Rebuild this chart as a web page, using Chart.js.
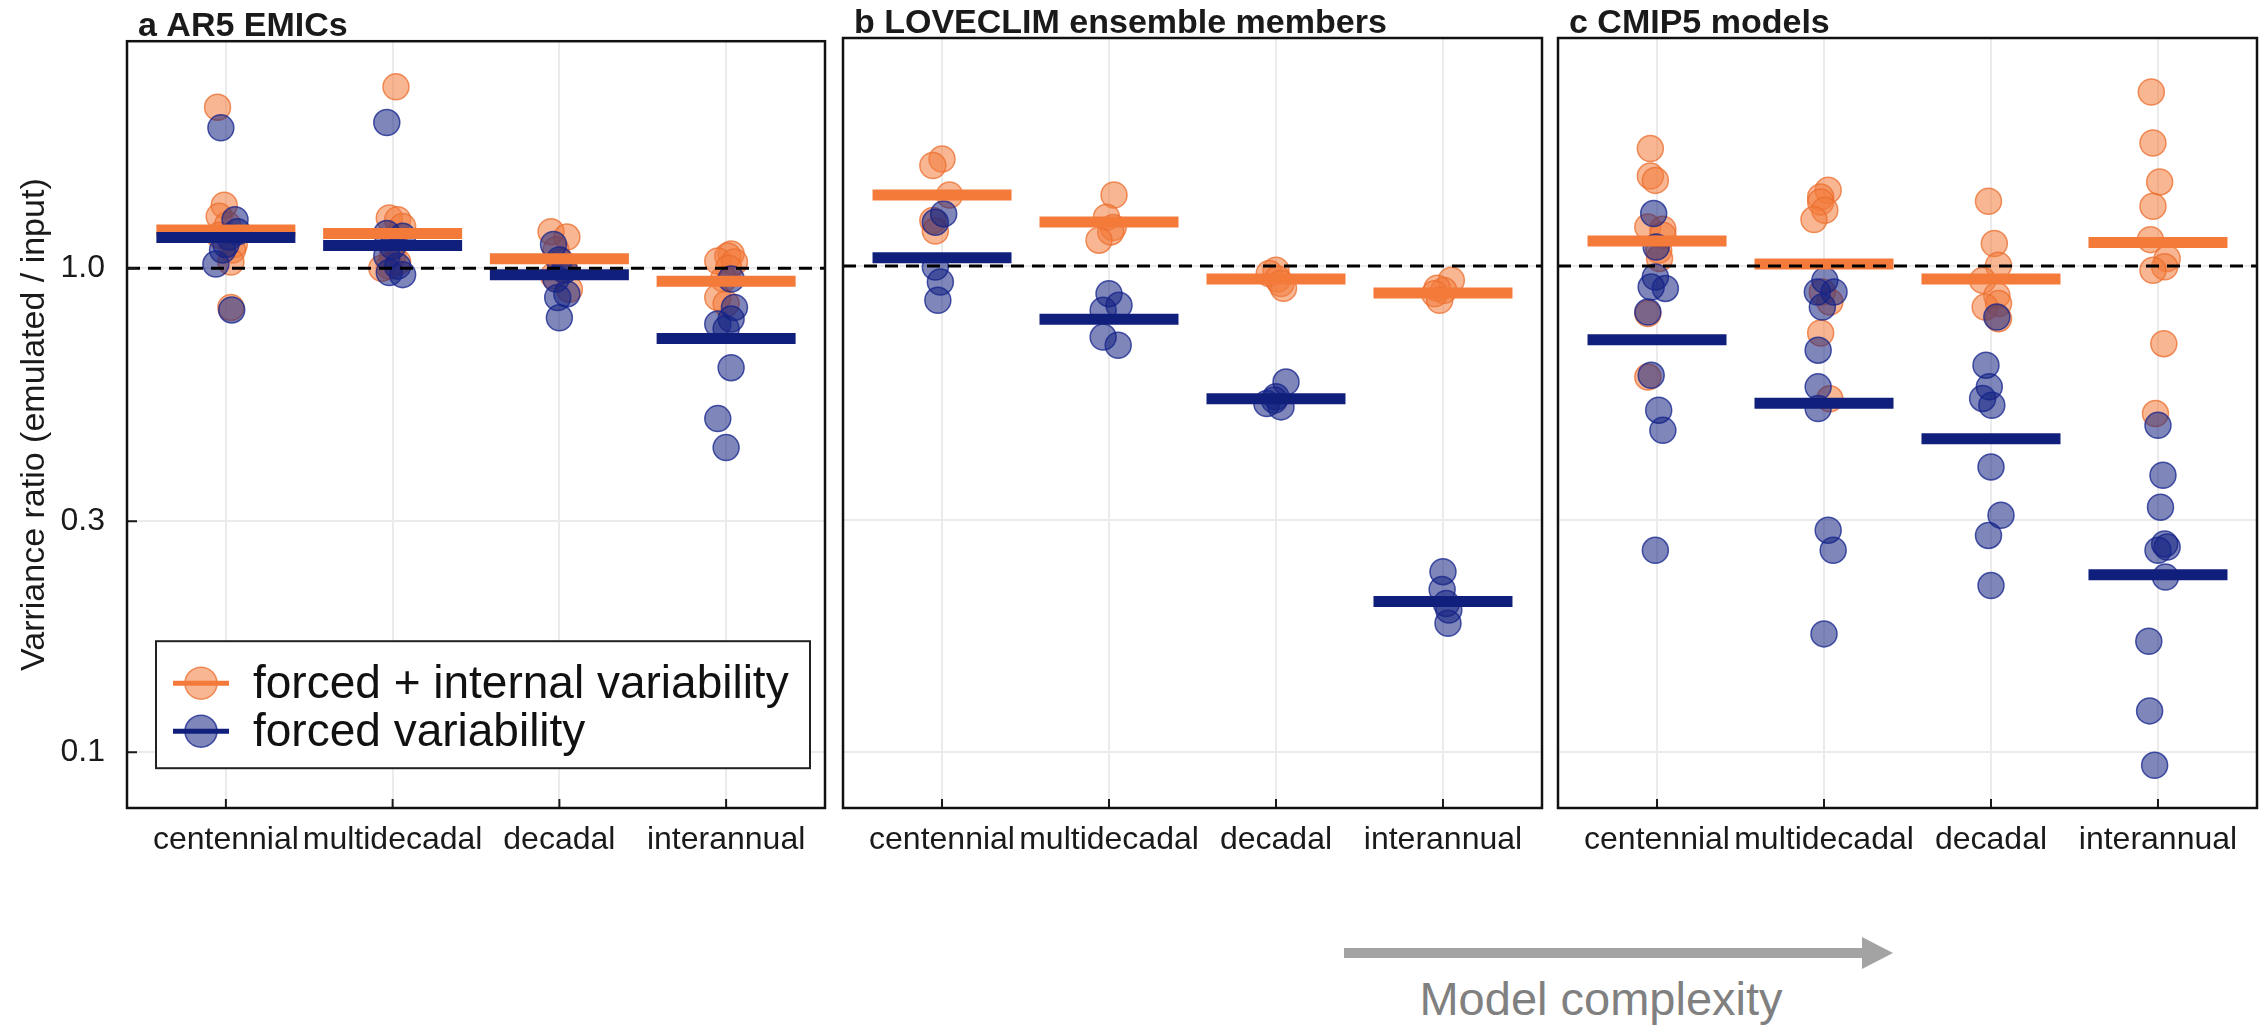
<!DOCTYPE html>
<html>
<head>
<meta charset="utf-8">
<title>Variance ratio of emulated vs input</title>
<script src="https://cdn.jsdelivr.net/npm/chart.js@4.4.1/dist/chart.umd.min.js"></script>
<style>
    html, body { margin: 0; padding: 0; background: #fff; }
    #fig { position: relative; width: 2265px; height: 1027px; overflow: hidden; }
    #fig canvas { position: absolute; top: 0; }
    #arrow { position: absolute; left: 1340px; top: 933px; }
    #complexity {
        position: absolute; left: 1401px; top: 975px; width: 400px;
        text-align: center; font: 47px/1 'Liberation Sans', Arial, sans-serif; color: #808080;
    }
</style>
</head>
<body>
<div id="fig">
    <canvas id="panelA" width="833" height="900" style="left:0px"></canvas>
    <canvas id="panelB" width="717" height="900" style="left:833px"></canvas>
    <canvas id="panelC" width="717" height="900" style="left:1548px"></canvas>
    <svg id="arrow" width="560" height="40">
        <line x1="4" y1="20" x2="523" y2="20" stroke="#a3a3a3" stroke-width="10" />
        <polygon points="522,4 553,20 522,36" fill="#a3a3a3" />
    </svg>
    <div id="complexity">Model complexity</div>
</div>

<script>
// ================= DATA =================
const categories = ['centennial', 'multidecadal', 'decadal', 'interannual'];
const yTicks = [0.1, 0.3, 1.0];
const yTickLabels = ['0.1', '0.3', '1.0'];
const legendLabels = ['forced + internal variability', 'forced variability'];

// a: AR5 EMICs (one list per timescale)
const emicTotal = [
    [2.15, 1.35, 1.28, 1.23, 1.17, 1.12, 1.09, 1.03, 0.83],
    [2.37, 1.27, 1.26, 1.22, 1.13, 1.06, 1.03, 1.01, 1.00],
    [1.19, 1.16, 1.09, 1.03, 1.00, 0.965, 0.905],
    [1.07, 1.06, 1.035, 1.03, 1.00, 0.95, 0.87, 0.845]
];
const emicTotalJitter = [
    [-0.05, -0.01, -0.04, 0.01, -0.04, 0.05, 0.04, 0.03, 0.03],
    [0.02, -0.02, 0.03, 0.06, 0.01, 0.0, 0.03, -0.02, -0.065],
    [-0.05, 0.045, -0.02, 0.01, 0.03, -0.035, 0.06],
    [0.03, 0.01, -0.05, 0.05, 0.015, -0.015, -0.05, 0.0]
];
const emicForced = [
    [1.95, 1.26, 1.19, 1.16, 1.12, 1.09, 1.02, 0.82],
    [2.0, 1.18, 1.165, 1.11, 1.06, 1.01, 0.98, 0.97],
    [1.12, 1.04, 0.99, 0.95, 0.885, 0.87, 0.79],
    [0.95, 0.83, 0.785, 0.767, 0.75, 0.623, 0.489, 0.426]
];
const emicForcedJitter = [
    [-0.03, 0.055, 0.07, 0.02, 0.0, -0.02, -0.06, 0.035],
    [-0.035, -0.035, 0.06, 0.0, -0.035, 0.03, -0.02, 0.06],
    [-0.035, 0.0, 0.03, -0.02, 0.045, -0.01, 0.0],
    [0.03, 0.05, 0.03, -0.05, 0.0, 0.03, -0.05, 0.0]
];
const emicTotalMedian = [1.20, 1.18, 1.046, 0.94];
const emicForcedMedian = [1.157, 1.114, 0.97, 0.716];

// b: LOVECLIM ensemble members
const loveTotal = [
    [1.66, 1.61, 1.40, 1.24, 1.18],
    [1.40, 1.26, 1.20, 1.175, 1.13],
    [0.98, 0.965, 0.94, 0.92, 0.90],
    [0.935, 0.89, 0.90, 0.877, 0.85]
];
const loveTotalJitter = [
    [0.0, -0.055, 0.045, -0.055, -0.04],
    [0.03, -0.015, 0.025, 0.01, -0.06],
    [0.0, -0.04, 0.01, 0.03, 0.045],
    [0.05, 0.005, -0.035, -0.05, -0.02]
];
const loveForced = [
    [1.28, 1.23, 0.995, 0.927, 0.85],
    [0.877, 0.83, 0.811, 0.714, 0.687],
    [0.577, 0.538, 0.53, 0.521, 0.513],
    [0.235, 0.216, 0.202, 0.196, 0.184]
];
const loveForcedJitter = [
    [0.01, -0.04, -0.04, -0.01, -0.025],
    [0.0, 0.06, -0.035, -0.035, 0.055],
    [0.06, 0.0, -0.01, -0.055, 0.03],
    [0.0, -0.005, 0.02, 0.035, 0.03]
];
const loveTotalMedian = [1.40, 1.232, 0.94, 0.88];
const loveForcedMedian = [1.04, 0.777, 0.533, 0.204];

// c: CMIP5 models
const cmipTotal = [
    [1.744, 1.531, 1.50, 1.203, 1.19, 1.157, 1.077, 1.036, 0.798, 0.591],
    [1.431, 1.387, 1.354, 1.302, 1.246, 0.884, 0.843, 0.728, 0.533],
    [1.359, 1.112, 1.003, 0.934, 0.87, 0.837, 0.823, 0.779],
    [2.28, 1.791, 1.489, 1.327, 1.133, 1.036, 0.996, 0.98, 0.692, 0.497]
];
const cmipTotalJitter = [
    [-0.04, -0.04, -0.01, -0.055, 0.035, 0.035, 0.01, 0.015, -0.055, -0.055],
    [0.025, -0.02, -0.02, 0.005, -0.06, -0.01, 0.035, -0.02, 0.035],
    [-0.015, 0.02, 0.045, -0.05, 0.035, 0.045, -0.035, 0.045],
    [-0.04, -0.03, 0.01, -0.03, -0.045, 0.055, 0.04, -0.03, 0.035, -0.015]
];
const cmipForced = [
    [1.282, 1.094, 0.949, 0.905, 0.899, 0.804, 0.596, 0.505, 0.459, 0.26],
    [0.934, 0.884, 0.884, 0.823, 0.671, 0.564, 0.509, 0.286, 0.26, 0.175],
    [0.785, 0.625, 0.564, 0.534, 0.517, 0.386, 0.307, 0.279, 0.22],
    [0.47, 0.371, 0.319, 0.268, 0.264, 0.26, 0.229, 0.169, 0.1215, 0.0939]
];
const cmipForcedJitter = [
    [-0.02, -0.005, -0.01, -0.035, 0.05, -0.055, -0.035, 0.01, 0.035, -0.01],
    [0.005, -0.04, 0.06, -0.01, -0.035, -0.035, -0.035, 0.025, 0.055, 0.0],
    [0.035, -0.03, -0.01, -0.05, 0.005, 0.0, 0.06, -0.015, 0.0],
    [0.0, 0.03, 0.015, 0.04, 0.055, 0.0, 0.045, -0.055, -0.05, -0.02]
];
const cmipTotalMedian = [1.126, 1.009, 0.94, 1.118];
const cmipForcedMedian = [0.705, 0.522, 0.441, 0.2315];

// ================= STYLE =================
const FONT = "'Liberation Sans', Arial, Helvetica, sans-serif";
const ORANGE = '#f47a3a';
const ORANGE_FILL = 'rgba(242, 122, 58, 0.55)';
const ORANGE_EDGE = 'rgba(235, 110, 45, 0.75)';
const NAVY = '#111f7c';
const NAVY_FILL = 'rgba(20, 35, 130, 0.55)';
const NAVY_EDGE = 'rgba(20, 35, 140, 0.75)';
const GRID = '#ebebeb';
const INK = '#1a1a1a';

Chart.defaults.font.family = FONT;

// scatter points, spread sideways around each category
function jittered(values, jitter) {
    return values.flatMap((vals, i) => vals.map((v, k) => ({ x: i + jitter[i][k], y: v })));
}

function medians(values) {
    return values.map((v, i) => ({ x: i, y: v }));
}

// dashed 1.0 line, inward ticks, frame, panel title and legend
const panelDecor = {
    id: 'panelDecor',
    afterDatasetsDraw(chart, args, opts) {
        const { ctx, chartArea, scales } = chart;
        const { left, right, top, bottom } = chartArea;
        ctx.save();

        const y1 = scales.y.getPixelForValue(1);
        ctx.strokeStyle = '#000';
        ctx.lineWidth = 3;
        ctx.setLineDash([13, 8]);
        ctx.beginPath();
        ctx.moveTo(left, y1);
        ctx.lineTo(right, y1);
        ctx.stroke();
        ctx.setLineDash([]);

        ctx.strokeStyle = INK;
        ctx.lineWidth = 2;
        ctx.beginPath();
        scales.x.ticks.forEach(t => {
            const px = scales.x.getPixelForValue(t.value);
            ctx.moveTo(px, bottom);
            ctx.lineTo(px, bottom - 9);
        });
        if (opts.yTickMarks) {
            scales.y.ticks.forEach(t => {
                const py = scales.y.getPixelForValue(t.value);
                ctx.moveTo(left, py);
                ctx.lineTo(left + 10, py);
            });
        }
        ctx.stroke();

        ctx.lineWidth = 2.5;
        ctx.strokeStyle = '#111';
        ctx.strokeRect(left, top, right - left, bottom - top);

        ctx.fillStyle = INK;
        ctx.font = 'bold 34px ' + FONT;
        ctx.textBaseline = 'alphabetic';
        ctx.textAlign = 'left';
        ctx.fillText(opts.title, left + 11, top - 5);

        if (opts.legend) drawLegend(ctx, chartArea);
        ctx.restore();
    }
};

function drawLegend(ctx, area) {
    const bx = area.left + 29, by = area.top + 600, bw = 654, bh = 127;
    const fills = [ORANGE_FILL, NAVY_FILL];
    const edges = [ORANGE_EDGE, NAVY_EDGE];
    const lines = [ORANGE, NAVY];

    ctx.fillStyle = '#fff';
    ctx.fillRect(bx, by, bw, bh);
    ctx.strokeStyle = '#222';
    ctx.lineWidth = 2;
    ctx.strokeRect(bx, by, bw, bh);

    legendLabels.forEach((label, i) => {
        const cx = bx + 45;
        const cy = by + 42 + i * 48;
        ctx.beginPath();
        ctx.arc(cx, cy, 16, 0, Math.PI * 2);
        ctx.fillStyle = fills[i];
        ctx.fill();
        ctx.strokeStyle = edges[i];
        ctx.lineWidth = 1.5;
        ctx.stroke();

        ctx.beginPath();
        ctx.moveTo(cx - 28, cy);
        ctx.lineTo(cx + 28, cy);
        ctx.strokeStyle = lines[i];
        ctx.lineWidth = 5;
        ctx.stroke();

        ctx.fillStyle = '#111';
        ctx.font = '46px ' + FONT;
        ctx.fillText(label, bx + 97, cy + 15);
    });
}

// ================= CHARTS =================
function renderPanel(canvasId, title, total, totalJitter, forced, forcedJitter, totalMed, forcedMed, withAxis) {
    const ctx = document.getElementById(canvasId).getContext('2d');

    new Chart(ctx, {
        type: 'scatter',
        data: {
            datasets: [
                {
                    data: jittered(total, totalJitter),
                    pointRadius: 13,
                    pointBackgroundColor: ORANGE_FILL,
                    pointBorderColor: ORANGE_EDGE,
                    pointBorderWidth: 1.5,
                    order: 4
                },
                {
                    data: jittered(forced, forcedJitter),
                    pointRadius: 13,
                    pointBackgroundColor: NAVY_FILL,
                    pointBorderColor: NAVY_EDGE,
                    pointBorderWidth: 1.5,
                    order: 3
                },
                {
                    data: medians(totalMed),
                    pointStyle: 'line',
                    pointRadius: 69.5,
                    pointBorderColor: ORANGE,
                    borderColor: ORANGE,
                    pointBorderWidth: 11,
                    borderWidth: 11,
                    order: 2
                },
                {
                    data: medians(forcedMed),
                    pointStyle: 'line',
                    pointRadius: 69.5,
                    pointBorderColor: NAVY,
                    borderColor: NAVY,
                    pointBorderWidth: 11,
                    borderWidth: 11,
                    order: 1
                }
            ]
        },
        options: {
            responsive: false,
            animation: false,
            events: [],
            layout: {
                autoPadding: false,
                padding: { left: 0, right: 8, top: 38, bottom: 0 }
            },
            plugins: {
                legend: { display: false },
                tooltip: { enabled: false },
                panelDecor: { title: title, legend: withAxis, yTickMarks: withAxis }
            },
            scales: {
                x: {
                    type: 'linear',
                    bounds: 'data',
                    min: -0.593,
                    max: 3.593,
                    afterBuildTicks: scale => {
                        scale.ticks = categories.map((c, i) => ({ value: i }));
                    },
                    afterFit: scale => { scale.height = 92; },
                    ticks: {
                        callback: (value, index) => categories[index],
                        autoSkip: false,
                        maxRotation: 0,
                        minRotation: 0,
                        padding: 13,
                        color: INK,
                        font: { size: 32 }
                    },
                    grid: { color: GRID, lineWidth: 2, drawTicks: false },
                    border: { display: false }
                },
                y: {
                    type: 'logarithmic',
                    bounds: 'data',
                    min: 0.0767,
                    max: 2.945,
                    afterBuildTicks: scale => {
                        scale.ticks = yTicks.map(v => ({ value: v }));
                    },
                    afterFit: scale => { scale.width = withAxis ? 127 : 10; },
                    ticks: {
                        display: withAxis,
                        callback: (value, index) => yTickLabels[index],
                        padding: 22,
                        color: INK,
                        font: { size: 32 }
                    },
                    title: {
                        display: withAxis,
                        text: 'Varriance ratio (emulated / input)',
                        color: INK,
                        font: { size: 34 },
                        padding: { top: 14, bottom: 0 }
                    },
                    grid: { color: GRID, lineWidth: 2, drawTicks: false },
                    border: { display: false }
                }
            }
        },
        plugins: [panelDecor]
    });
}

renderPanel('panelA', 'a AR5 EMICs', emicTotal, emicTotalJitter, emicForced, emicForcedJitter,
    emicTotalMedian, emicForcedMedian, true);
renderPanel('panelB', 'b LOVECLIM ensemble members', loveTotal, loveTotalJitter, loveForced, loveForcedJitter,
    loveTotalMedian, loveForcedMedian, false);
renderPanel('panelC', 'c CMIP5 models', cmipTotal, cmipTotalJitter, cmipForced, cmipForcedJitter,
    cmipTotalMedian, cmipForcedMedian, false);
</script>
</body>
</html>
